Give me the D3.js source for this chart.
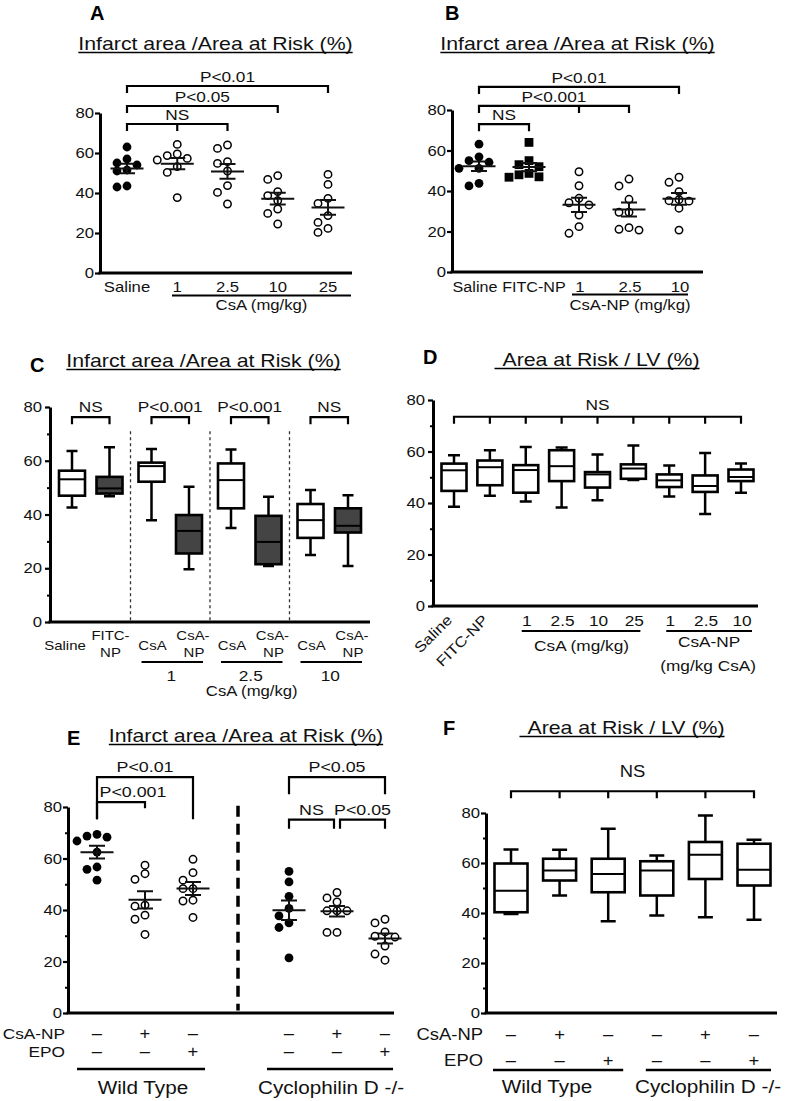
<!DOCTYPE html>
<html>
<head>
<meta charset="utf-8">
<script src="https://cdn.jsdelivr.net/npm/d3@7"></script>
<style>
  body { margin: 0; background: #fff; }
  svg { display: block; font-family: "Liberation Sans", Arial, sans-serif; }
</style>
</head>
<body>
<svg id="fig" width="787" height="1101"></svg>
<script>
// ---------- data ----------
// A: infarct / AAR, free CsA
var catsA = ["Saline", "1", "2.5", "10", "25"];
var salineA = [63, 57, 55, 54, 51.5, 51, 43.5, 43];
var csa1A = [64.3, 59.5, 58.7, 57.3, 56.5, 53.2, 50.3, 37.7];
var csa2A = [64, 62.3, 55.7, 54.8, 51, 43.7, 40.3, 34.5];
var csa10A = [48.7, 46.8, 40.7, 38.7, 36.2, 32, 29.8, 24.5];
var csa25A = [49.3, 44.3, 37.3, 34.8, 28.7, 25.3, 22.3, 20.3];
var bracketsA = [
    { a: 0, b: 2, level: 74.5, label: "NS", ticks: [1] },
    { a: 0, b: 3, level: 83.5, label: "P<0.05" },
    { a: 0, b: 4, level: 93.5, label: "P<0.01" }
];

// B: infarct / AAR, CsA nanoparticles
var catsB = ["Saline", "FITC-NP", "1", "2.5", "10"];
var salineB = [63.1, 56.9, 55, 54.2, 51.2, 51.2, 43.8, 42.5];
var fitcB = [64, 55, 53, 52, 48.7, 48, 47, 46.8];
var np1B = [49.5, 42.6, 36.4, 34.2, 33.1, 28.1, 22.4, 19.1];
var np2B = [45.9, 42.5, 35.9, 29.5, 29.5, 21.9, 21.1, 20.7];
var np10B = [46.8, 44.3, 39.7, 35.7, 35.2, 35, 31.5, 20.7];
var bracketsB = [
    { a: 0, b: 1, level: 73, label: "NS" },
    { a: 0, b: 3, level: 82, label: "P<0.001", ticks: [2] },
    { a: 0, b: 4, level: 91.4, label: "P<0.01" }
];

// C: box plots [min, q1, median, q3, max]
var catsC = ["Saline", "FITC-NP", "CsA", "CsA-NP", "CsA", "CsA-NP", "CsA", "CsA-NP"];
var dosesC = ["", "1", "2.5", "10"];
var boxC = [
    [42.6, 47, 53.1, 56.3, 63.6],
    [46.8, 47.8, 49.7, 54, 65],
    [37.9, 52.2, 58, 59.3, 64.4],
    [19.6, 25.5, 33.9, 39.8, 50.3],
    [35, 42.3, 52.8, 59, 64.2],
    [20.8, 21.5, 29.8, 39.5, 46.6],
    [24.9, 31.3, 37.9, 43.9, 49.1],
    [20.8, 33.3, 35.8, 42.3, 47.2]
];
var pC = ["NS", "P<0.001", "P<0.001", "NS"];

// D: area at risk / LV
var catsD = ["Saline", "FITC-NP", "1", "2.5", "10", "25", "1", "2.5", "10"];
var boxD = [
    [38.5, 44.7, 52.7, 55.3, 58.5],
    [42.8, 46.9, 53.9, 56.5, 60.5],
    [40.6, 44, 52.8, 54.7, 61.7],
    [38.3, 48.5, 54.3, 60.5, 61.6],
    [41.1, 46, 51.1, 52, 58.8],
    [48.9, 49.4, 53.4, 55, 62.3],
    [42.5, 46.2, 48.8, 51.1, 54.6],
    [35.7, 44.3, 46.6, 50.7, 59.4],
    [44, 48.5, 50.1, 53, 55.3]
];

// E / F: wild type vs cyclophilin D knockout
var csaRow = ["\u2013", "+", "\u2013", "\u2013", "+", "\u2013"];
var epoRow = ["\u2013", "\u2013", "+", "\u2013", "\u2013", "+"];
var strains = ["Wild Type", "Cyclophilin D -/-"];
var wtCtrlE = [69.4, 68.7, 68.3, 66.8, 62.5, 56.7, 55.8, 51.6];
var wtCsaE = [57.4, 54.1, 51.9, 41.9, 41.5, 38, 36.4, 30.5];
var wtEpoE = [59.7, 54.5, 51.6, 48.3, 48.3, 43.8, 43.5, 37.1];
var cypCtrlE = [55, 50.9, 45.3, 40.6, 37.7, 35, 33.2, 21.4];
var cypCsaE = [46.8, 44.7, 43.1, 39.7, 39.7, 39.7, 31.3, 31.3];
var cypEpoE = [36.4, 35, 31.5, 29.8, 29.5, 26, 22.9, 20.5];
var bracketsE = [
    { a: 0, b: 2, level: 91.6, ends: [75.2, 75.2], label: "P<0.01" },
    { a: 0, b: 1, level: 81.9, ends: [75.2, 79.5], label: "P<0.001", dx: 12 },
    { a: 3, b: 5, level: 91.6, ends: [85, 85], label: "P<0.05" },
    { a: 3, b: 4, level: 75.1, ends: [71.6, 71.6], label: "NS", inset: [0, 3] },
    { a: 4, b: 5, level: 75.1, ends: [71.6, 71.6], label: "P<0.05", inset: [3, 0] }
];
var boxF = [
    [39.6, 40.3, 48.9, 59.8, 65.4],
    [47, 53, 57, 61.7, 65.3],
    [36.7, 48.3, 55.6, 61.7, 73.7],
    [39, 47, 57, 60.7, 63],
    [38.3, 53.6, 63.3, 68.4, 79],
    [37.3, 51, 57.3, 67.7, 69.3]
];

// ---------- helpers ----------
var SX = 1.15; // source figure is a bit wider than Arial
var svg = d3.select("#fig");
svg.append("rect").attr("width", 787).attr("height", 1101).attr("fill", "#fff");

function stretch(sel) {
    sel.each(function () {
        var w = this.getComputedTextLength();
        d3.select(this).attr("textLength", w * SX).attr("lengthAdjust", "spacingAndGlyphs");
    });
    return sel;
}

function label(x, y, s, size, anchor) {
    var t = svg.append("text")
        .attr("x", x).attr("y", y)
        .attr("font-size", size)
        .attr("text-anchor", anchor || "middle")
        .attr("fill", "#111")
        .text(s);
    return stretch(t);
}

function hline(x1, x2, y, w) {
    svg.append("line").attr("x1", x1).attr("x2", x2).attr("y1", y).attr("y2", y)
        .attr("stroke", "#000").attr("stroke-width", w || 2);
}

function title(cx, y, s, lead) {
    var t = label(cx, y, s, 18.5);
    var w = +t.attr("textLength");
    hline(cx - w / 2 - (lead || 0), cx + w / 2, y + 2.5, 1.4);
}

function letter(x, y, s) {
    svg.append("text").attr("x", x).attr("y", y).attr("font-size", 20)
        .attr("font-weight", "bold").attr("fill", "#000").text(s);
}

function axes(y, x0, x1, pad, minor) {
    var ax = svg.append("g").attr("transform", "translate(" + x0 + ",0)")
        .call(d3.axisLeft(y).tickValues([0, 20, 40, 60, 80]).tickSize(5).tickSizeOuter(0).tickPadding(pad));
    ax.attr("font-family", null).attr("font-size", null);
    ax.select(".domain").attr("stroke-width", 3);
    ax.selectAll(".tick line").attr("stroke-width", 2.2);
    ax.selectAll("text").attr("font-size", 14.5).attr("fill", "#111");
    stretch(ax.selectAll("text"));
    if (minor) {
        var mx = svg.append("g").attr("transform", "translate(" + x0 + ",0)")
            .call(d3.axisLeft(y).tickValues([10, 30, 50, 70]).tickSize(3).tickFormat(""));
        mx.select(".domain").remove();
        mx.selectAll(".tick line").attr("stroke-width", 2);
    }
    hline(x0 - 1.5, x1, y(0), 3);
}

function brackets(list, xAt, y, size, gap) {
    list.forEach(function (b) {
        var ins = b.inset || [0, 0];
        var x1 = xAt(b.a) + ins[0], x2 = xAt(b.b) - ins[1];
        var yl = y(b.level);
        var e1 = b.ends ? y(b.ends[0]) : yl + 7;
        var e2 = b.ends ? y(b.ends[1]) : yl + 7;
        var d = "M" + x1 + "," + e1 + "V" + yl + "H" + x2 + "V" + e2;
        (b.ticks || []).forEach(function (t) {
            d += "M" + xAt(t) + "," + yl + "V" + (yl + 7);
        });
        svg.append("path").attr("d", d).attr("fill", "none")
            .attr("stroke", "#000").attr("stroke-width", 2.2);
        label((x1 + x2) / 2 + (b.dx || 0), yl - (b.gap || gap || 4), b.label, size || 15);
    });
}

function scatter(sets, xAt, y, kindOf) {
    sets.forEach(function (vals, i) {
        var cx = xAt(i), kind = kindOf(i), placed = [];
        vals.slice().sort(d3.descending).forEach(function (v) {
            var py = y(v);
            var off = [0, -10, 10, -20, 20].find(function (o) {
                return placed.every(function (p) {
                    return Math.hypot(p[0] - cx - o, p[1] - py) >= 8;
                });
            });
            placed.push([cx + (off === undefined ? 0 : off), py]);
        });
        var g = svg.append("g");
        if (kind === "square") {
            g.selectAll("rect").data(placed).enter().append("rect")
                .attr("x", function (p) { return p[0] - 4.4; })
                .attr("y", function (p) { return p[1] - 4.4; })
                .attr("width", 8.8).attr("height", 8.8).attr("fill", "#000");
        } else {
            g.selectAll("circle").data(placed).enter().append("circle")
                .attr("cx", function (p) { return p[0]; })
                .attr("cy", function (p) { return p[1]; })
                .attr("r", kind === "filled" ? 4.4 : 3.7)
                .attr("fill", kind === "filled" ? "#000" : "#fff")
                .attr("stroke", "#000")
                .attr("stroke-width", kind === "filled" ? 0 : 1.5);
        }
        var m = d3.mean(vals), sem = d3.deviation(vals) / Math.sqrt(vals.length);
        var d = "M" + (cx - 16.5) + "," + y(m) + "H" + (cx + 16.5) +
            "M" + cx + "," + y(m - sem) + "V" + y(m + sem) +
            "M" + (cx - 8) + "," + y(m - sem) + "H" + (cx + 8) +
            "M" + (cx - 8) + "," + y(m + sem) + "H" + (cx + 8);
        g.append("path").attr("d", d).attr("stroke", "#111").attr("stroke-width", 2).attr("fill", "none");
    });
}

function boxes(data, xAt, y, w, cap, fillOf) {
    var g = svg.append("g").selectAll("g").data(data).enter().append("g");
    g.append("path")
        .attr("d", function (d, i) {
            var x = xAt(i);
            return "M" + x + "," + y(d[0]) + "V" + y(d[1]) +
                "M" + x + "," + y(d[3]) + "V" + y(d[4]) +
                "M" + (x - cap / 2) + "," + y(d[0]) + "H" + (x + cap / 2) +
                "M" + (x - cap / 2) + "," + y(d[4]) + "H" + (x + cap / 2);
        })
        .attr("stroke", "#000").attr("stroke-width", 2.5).attr("fill", "none");
    g.append("rect")
        .attr("x", function (d, i) { return xAt(i) - w / 2; })
        .attr("y", function (d) { return y(d[3]); })
        .attr("width", w)
        .attr("height", function (d) { return y(d[1]) - y(d[3]); })
        .attr("fill", function (d, i) { return fillOf(i); })
        .attr("stroke", "#000").attr("stroke-width", 2.6);
    g.append("line")
        .attr("x1", function (d, i) { return xAt(i) - w / 2; })
        .attr("x2", function (d, i) { return xAt(i) + w / 2; })
        .attr("y1", function (d) { return y(d[2]); })
        .attr("y2", function (d) { return y(d[2]); })
        .attr("stroke", "#000").attr("stroke-width", 2);
}

// ---------- Panel A ----------
var yA = d3.scaleLinear().domain([0, 80]).range([273, 113]);
var xA = d3.scalePoint().domain(d3.range(catsA.length)).range([127, 328]);
letter(90, 20, "A");
title(215.5, 50, "Infarct area /Area at Risk (%)");
axes(yA, 100, 352, 1, false);
scatter([salineA, csa1A, csa2A, csa10A, csa25A], xA, yA, function (i) {
    return catsA[i] === "Saline" ? "filled" : "open";
});
brackets(bracketsA, xA, yA, 15);
catsA.forEach(function (c, i) { label(xA(i), 292, c, 14.5); });
hline(172, 351, 295.5, 2);
label(261.5, 310, "CsA (mg/kg)", 14.5);

// ---------- Panel B ----------
var yB = d3.scaleLinear().domain([0, 80]).range([272, 110]);
var xB = d3.scalePoint().domain(d3.range(catsB.length)).range([479, 679]);
letter(445, 20, "B");
title(577.5, 50, "Infarct area /Area at Risk (%)");
axes(yB, 452, 703, 1, false);
scatter([salineB, fitcB, np1B, np2B, np10B], xB, yB, function (i) {
    return catsB[i] === "Saline" ? "filled" : (catsB[i] === "FITC-NP" ? "square" : "open");
});
brackets(bracketsB, xB, yB, 15);
label(xB(0) - 4, 292, catsB[0], 14);
label(xB(1) + 5, 292, catsB[1], 14);
catsB.slice(2).forEach(function (c, i) { label(xB(i + 2) + 1, 292, c, 14.5); });
hline(572, 688, 294.5, 2);
label(630, 310, "CsA-NP (mg/kg)", 14.5);

// ---------- Panel C ----------
var yC = d3.scaleLinear().domain([0, 80]).range([622, 407]);
var gC = d3.scaleBand().domain(d3.range(4)).range([51, 369]);
var xC = function (i) {
    return gC(Math.floor(i / 2)) + gC.bandwidth() / 2 + (i % 2 === 0 ? -18.75 : 18.75);
};
letter(30, 372, "C");
title(203.5, 367, "Infarct area /Area at Risk (%)");
[1, 2, 3].forEach(function (k) {
    svg.append("line").attr("x1", gC(k)).attr("x2", gC(k))
        .attr("y1", yC(71)).attr("y2", yC(0))
        .attr("stroke", "#333").attr("stroke-width", 1.3).attr("stroke-dasharray", "3,3");
});
axes(yC, 50, 370, 3, true);
boxes(boxC, xC, yC, 26, 11, function (i) {
    return catsC[i].indexOf("NP") >= 0 ? "#444" : "#fff";
});
brackets(pC.map(function (p, k) {
    return { a: 2 * k, b: 2 * k + 1, level: 76.2, label: p };
}), xC, yC, 15, 5);
catsC.forEach(function (c, i) {
    var parts = c.indexOf("-") >= 0 ? [c.slice(0, c.indexOf("-") + 1), c.slice(c.indexOf("-") + 1)] : [c];
    if (parts.length === 1) {
        label(xC(i) + (i === 0 ? -7 : 1), 650, c, 13);
    } else {
        label(xC(i) + (i === 1 ? 1 : 4), 640, parts[0], 13);
        label(xC(i) + (i === 1 ? 1 : 5), 657, parts[1], 13);
    }
});
dosesC.forEach(function (d, k) {
    if (!d) return;
    hline(xC(2 * k) - 10, xC(2 * k + 1) + 14, 662, 2);
    label(gC(k) + gC.bandwidth() / 2 + 1, 681, d, 15);
});
label(gC(2) + gC.bandwidth() / 2 + 2, 696, "CsA (mg/kg)", 14.5);

// ---------- Panel D ----------
var yD = d3.scaleLinear().domain([0, 80]).range([606, 400]);
var xD = d3.scalePoint().domain(d3.range(catsD.length)).range([454, 741]);
letter(423, 364, "D");
title(601, 366, "Area at Risk / LV (%)", 8);
axes(yD, 433, 758, 3, true);
boxes(boxD, xD, yD, 25, 12, function () { return "#fff"; });
brackets([{ a: 0, b: 8, level: 73.5, label: "NS", ticks: d3.range(1, 8) }], xD, yD, 15, 7);
[0, 1].forEach(function (i) {
    label(0, 0, catsD[i], 14.5, "end")
        .attr("transform", "translate(" + (xD(i) - 1) + ",621) rotate(-45)");
});
catsD.slice(2).forEach(function (c, i) { label(xD(i + 2) + 1, 626, c, 15); });
hline(xD(2) - 4, xD(5) + 7, 631, 2);
hline(xD(6) - 3, xD(8) + 11, 631, 2);
label((xD(2) + xD(5)) / 2 + 2, 651, "CsA (mg/kg)", 15);
label((xD(6) + xD(8)) / 2 + 4, 647, "CsA-NP", 15);
label((xD(6) + xD(8)) / 2 + 3, 671, "(mg/kg CsA)", 15);

// ---------- Panel E ----------
var yE = d3.scaleLinear().domain([0, 80]).range([1013, 807]);
var slotE = d3.scalePoint().domain(d3.range(7)).range([97, 385]);
var xE = function (i) { return slotE(i < 3 ? i : i + 1); };
letter(67, 745, "E");
title(246, 742, "Infarct area /Area at Risk (%)");
svg.append("line").attr("x1", slotE(3) - 3).attr("x2", slotE(3) - 3)
    .attr("y1", yE(80.5)).attr("y2", yE(1))
    .attr("stroke", "#000").attr("stroke-width", 3.5).attr("stroke-dasharray", "11,7");
axes(yE, 68, 394, 1, true);
scatter([wtCtrlE, wtCsaE, wtEpoE, cypCtrlE, cypCsaE, cypEpoE], xE, yE, function (i) {
    return csaRow[i] !== "+" && epoRow[i] !== "+" ? "filled" : "open";
});
brackets(bracketsE, xE, yE, 15.5, 5);
label(65, 1039, "CsA-NP", 15, "end");
label(65, 1057, "EPO", 15, "end");
csaRow.forEach(function (s, i) { label(xE(i), 1039, s, 16); });
epoRow.forEach(function (s, i) { label(xE(i), 1057, s, 16); });
hline(xE(0) - 20, xE(2) + 12, 1069, 2.5);
hline(xE(3) - 22, xE(5) + 8, 1069, 2.5);
label((xE(0) + xE(2)) / 2 - 2, 1094, strains[0], 18);
label((xE(3) + xE(5)) / 2 - 6, 1094, strains[1], 18);

// ---------- Panel F ----------
var yF = d3.scaleLinear().domain([0, 80]).range([1013, 813]);
var xF = d3.scalePoint().domain(d3.range(boxF.length)).range([511, 754]);
letter(443, 735, "F");
title(626, 734, "Area at Risk / LV (%)", 8);
axes(yF, 486, 777, 1, true);
boxes(boxF, xF, yF, 33, 15, function () { return "#fff"; });
brackets([{ a: 0, b: 5, level: 88.7, label: "NS", ticks: [1, 2, 3, 4] }], xF, yF, 16, 14);
label(483, 1040, "CsA-NP", 16, "end");
label(483, 1066, "EPO", 16, "end");
csaRow.forEach(function (s, i) { label(xF(i), 1040, s, 16); });
epoRow.forEach(function (s, i) { label(xF(i), 1066, s, 16); });
hline(xF(0) - 18, xF(2) + 15, 1070, 2.5);
hline(xF(3) - 11, xF(5) + 17, 1070, 2.5);
label(547, 1093, strains[0], 18);
label(708, 1093, strains[1], 18);
</script>
</body>
</html>
